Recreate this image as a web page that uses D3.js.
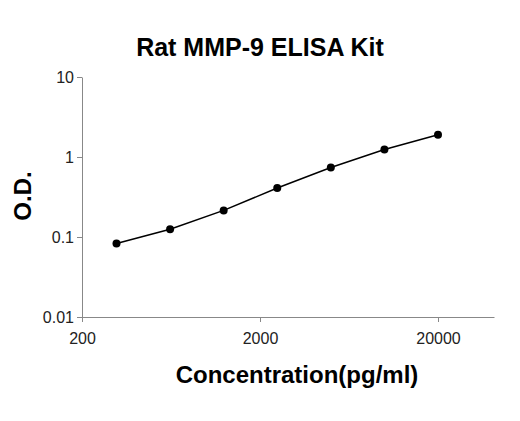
<!DOCTYPE html><html><head><script src="https://cdn.jsdelivr.net/npm/d3@7"></script>
<style>body{margin:0;background:#fff}</style></head><body><svg id="c" width="520" height="421"></svg>
<script>
const conc=[312.5,625,1250,2500,5000,10000,20000];
const od=[0.083,0.125,0.215,0.41,0.74,1.24,1.9];
const xTicks=[200,2000,20000];
const yTicks=[0.01,0.1,1,10];
const svg=d3.select("#c");
const x=d3.scaleLog().domain([200,200*Math.pow(10,(494-82)/178)]).range([82,494]);
const y=d3.scaleLog().domain([0.01,10]).range([317,77]);
const f="Liberation Sans, Arial, sans-serif";
const xa=svg.append("g").attr("transform","translate(0,317)").call(d3.axisBottom(x).tickValues(xTicks).tickFormat(d3.format("d")).tickSize(5).tickSizeOuter(0));
const ya=svg.append("g").attr("transform","translate(82,0)").call(d3.axisLeft(y).tickValues(yTicks).tickFormat(d=>String(d)).tickSize(5).tickSizeOuter(0));
[xa,ya].forEach(a=>{a.selectAll("path,line").attr("stroke","#888");a.selectAll("text").attr("font-family",f).attr("font-size",16).attr("fill","#222");});
xa.selectAll("text").attr("dy","1.2em");
svg.append("path").datum(conc.map((c,i)=>[c,od[i]])).attr("fill","none").attr("stroke","#000").attr("stroke-width",1.5)
 .attr("d",d3.line().x(d=>x(d[0])).y(d=>y(d[1])));
svg.selectAll("circle").data(conc).join("circle").attr("cx",d=>x(d)).attr("cy",(d,i)=>y(od[i])).attr("r",4).attr("fill","#000");
svg.append("text").attr("x",260).attr("y",56).attr("text-anchor","middle").attr("font-family",f).attr("font-weight","bold").attr("font-size",25).text("Rat MMP-9 ELISA Kit");
svg.append("text").attr("x",297).attr("y",383).attr("text-anchor","middle").attr("font-family",f).attr("font-weight","bold").attr("font-size",24).text("Concentration(pg/ml)");
svg.append("text").attr("transform","translate(31,196) rotate(-90)").attr("text-anchor","middle").attr("font-family",f).attr("font-weight","bold").attr("font-size",24).text("O.D.");
</script></body></html>
